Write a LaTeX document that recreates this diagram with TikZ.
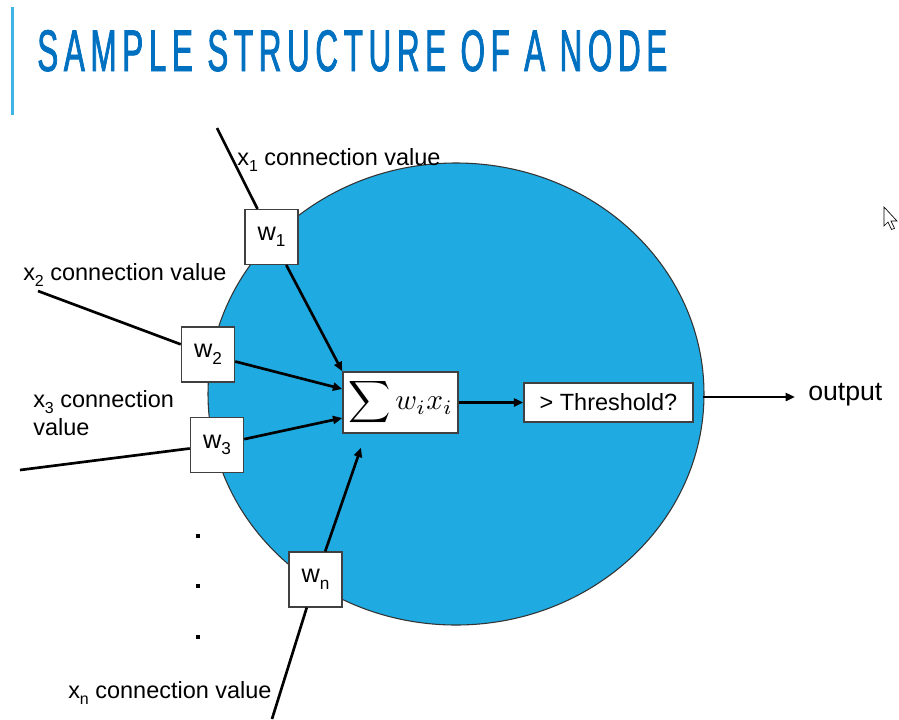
\documentclass[tikz,border=0pt]{standalone}
\usepackage{fontspec}
\setmainfont{Liberation Sans}
\newfontfamily\titlefont[FakeStretch=0.56,LetterSpace=10,FakeBold=1.3]{Liberation Sans}
\usetikzlibrary{arrows.meta,shapes.geometric,calc}
\definecolor{titleblue}{RGB}{0,112,192}
\definecolor{barblue}{RGB}{64,180,230}
\definecolor{cellblue}{RGB}{31,170,226}
% lowered, reduced index for the sans labels
\newcommand\lowidx[1]{\raisebox{-0.26em}{\scalebox{0.68}{#1}}}

\begin{document}
\begin{tikzpicture}[x=0.75pt,y=-0.75pt,
  wbox/.style={draw=black!75,fill=white,line width=1.1pt,
    minimum width=39.75pt,minimum height=41pt,inner sep=0pt,
    font=\fontsize{19}{22}\selectfont},
  opbox/.style={draw=black!75,fill=white,line width=1.1pt,inner sep=0pt},
  lbl/.style={inner sep=0pt,anchor=base west,font=\fontsize{17.6}{21}\selectfont},
  wire/.style={line width=2pt,black},
  arrowwire/.style={wire,-{Triangle[length=7pt,width=6pt]}},
  dotmark/.style={fill=black,inner sep=0pt,minimum size=3pt}
]
% canvas
\fill[white] (0,0) rectangle (899,719);
\path[use as bounding box] (0,0) rectangle (899,719);

% heading with its accent bar
\fill[barblue] (11,7) rectangle (13.5,115);
\node[inner sep=0pt,anchor=base west,text=titleblue] (title) at (37,71)
  {\resizebox{472.5pt}{30.75pt}{\titlefont SAMPLE STRUCTURE OF A NODE}};

% the node body
\node[ellipse,draw=black!80,fill=cellblue,line width=0.8pt,
  minimum width=372pt,minimum height=346.5pt,inner sep=0pt] (cell) at (456,394) {};

% summation and threshold units
\node[opbox,minimum width=86.25pt,minimum height=45.75pt] (sum) at (400.5,402.5)
  {\scalebox{2.2}{$\displaystyle\sum w_i x_i$}};
\node[opbox,minimum width=126.75pt,minimum height=29.25pt,
  font=\fontsize{17.6}{21}\selectfont] (thr) at (608.5,402.5) {> Threshold?};

% weights
\node[wbox] (w1) at (271.5,237) {w\lowidx{1}};
\node[wbox] (w2) at (208,354.5) {w\lowidx{2}};
\node[wbox] (w3) at (217,445) {w\lowidx{3}};
\node[wbox] (wn) at (315.5,579.5) {w\lowidx{n}};

% free ends of the incoming connections
\coordinate (x1end) at (217,128);
\coordinate (x2end) at (38,291);
\coordinate (x3end) at (20,470);
\coordinate (xnend) at (272,719);
\coordinate (outstart) at (703,397);

% incoming connections
\draw[wire] (x1end) -- (w1);
\draw[wire] (x2end) -- (w2);
\draw[wire] (x3end) -- (w3);
\draw[wire] (xnend) -- (wn);

% weighted inputs into the sum
\draw[arrowwire] (w1) -- (sum.north west);
\draw[arrowwire] (w2) -- ($(sum.west)+(0,-13.5)$);
\draw[arrowwire] (w3) -- ($(sum.west)+(0,15.5)$);
\draw[arrowwire] (wn) -- ($(sum.south)+(-39.5,14)$);

% sum to threshold, threshold to output
\draw[arrowwire] (sum) -- (thr);
\node[inner sep=0pt,anchor=west,font=\fontsize{20}{24}\selectfont] (out) at (808,395) {output};
\draw[arrowwire] (outstart) -- ($(out.west)+(-13,2)$);

% input labels
\node[lbl] (l1) at (237,165) {x\lowidx{1} connection value};
\node[lbl] (l2) at (23,280) {x\lowidx{2} connection value};
\node[lbl,align=left] (l3) at (33,435) {x\lowidx{3} connection\\value};
\node[lbl] (ln) at (68,698) {x\lowidx{n} connection value};

% ellipsis dots
\node[dotmark] (d1) at (198,536) {};
\node[dotmark] (d2) at (198,586) {};
\node[dotmark] (d3) at (198,637) {};

% pointer
\draw[fill=white,line width=0.5pt,line join=miter]
  (884,207) -- (884,226) -- (888,222) -- (891.5,229.5) -- (894.5,228.3)
  -- (891,221) -- (897,221) -- cycle;
\end{tikzpicture}
\end{document}
